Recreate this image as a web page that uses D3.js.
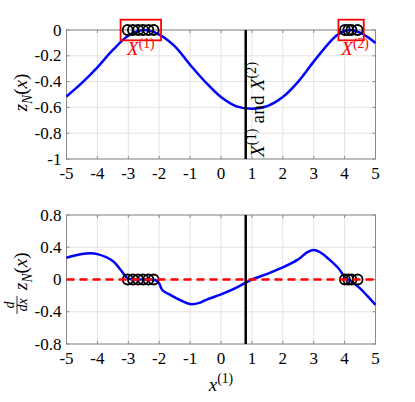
<!DOCTYPE html>
<html>
<head>
<meta charset="utf-8">
<script src="https://cdn.jsdelivr.net/npm/d3@7"></script>
<style>
body{margin:0;background:#fff;}
</style>
</head>
<body>
<svg id="fig" width="415" height="402" font-family="'Liberation Serif', 'DejaVu Serif', serif"></svg>
<script>
/* two panels: z_N(x) on top, its derivative below */
var xTop = [-5,-4.5,-4,-3.5,-3,-2.5,-2,-1.5,-1,-0.5,0,0.5,1,1.5,2,2.5,3,3.5,3.75,4,4.2,4.5,4.75,5];
var zTop = [-0.515,-0.41,-0.29,-0.155,-0.045,0.0,-0.035,-0.125,-0.27,-0.405,-0.52,-0.592,-0.61,-0.59,-0.52,-0.40,-0.245,-0.10,-0.04,-0.008,0.0,-0.02,-0.055,-0.10];
var xDer = [-5,-4.5,-4.25,-4,-3.5,-3.25,-3.1,-3,-2.5,-2.1,-2,-1.9,-1.6,-1.3,-1,-0.7,-0.5,0,0.5,0.8,1,1.5,2,2.5,2.8,3,3.2,3.5,3.8,4,4.2,4.5,4.75,5];
var zDer = [0.27,0.315,0.325,0.315,0.23,0.12,0.045,0.01,0.0,-0.01,-0.05,-0.13,-0.2,-0.26,-0.305,-0.29,-0.255,-0.185,-0.10,-0.04,0.0,0.07,0.15,0.25,0.34,0.365,0.34,0.25,0.14,0.035,-0.02,-0.11,-0.21,-0.315];
var cand1 = [-3.02,-2.85,-2.68,-2.52,-2.35,-2.18];
var cand2 = [4.01,4.12,4.22,4.42];
var box1 = [-3.25,-1.94];
var box2 = [3.80,4.62];
var boxY = [-0.08,0.08];
var xSplit = 0.8;
var xTicks = d3.range(-5,6);
var topYTicks = [-1,-0.8,-0.6,-0.4,-0.2,0];
var botYTicks = [-0.8,-0.4,0,0.4,0.8];

var svg = d3.select("#fig");
var x = d3.scaleLinear().domain([-5,5]).range([66.5,375.5]);

// writes a bit of latex-ish text: parts are [string, style]
var mathText = function(sel, parts, size, color){
    var t = sel.append("text").attr("font-size", size).attr("fill", color || "#000");
    var shift = 0;
    parts.forEach(function(p){
	var s = p[1] || "";
	var dy = 0, fs = size;
	if (s.indexOf("sup") >= 0) { dy = -0.4*size; fs = 0.72*size; }
	if (s.indexOf("sub") >= 0) { dy = 0.25*size; fs = 0.72*size; }
	t.append("tspan")
	    .attr("dy", dy - shift)
	    .attr("font-size", fs)
	    .attr("font-style", s.indexOf("it") >= 0 ? "italic" : "normal")
	    .text(p[0]);
	shift = dy;
    });
    return t;
};

var panel = function(top, bottom, ydom, yticks){
    var y = d3.scaleLinear().domain(ydom).range([bottom, top]);
    var g = svg.append("g");
    g.selectAll(".gx").data(xTicks).enter().append("line")
	.attr("x1", x).attr("x2", x).attr("y1", top).attr("y2", bottom)
	.attr("stroke", "#e3e3e3").attr("stroke-width", 1);
    g.selectAll(".gy").data(yticks).enter().append("line")
	.attr("x1", x.range()[0]).attr("x2", x.range()[1])
	.attr("y1", y).attr("y2", y)
	.attr("stroke", "#e3e3e3").attr("stroke-width", 1);
    // small inward ticks on all four sides
    g.selectAll(".tx").data(xTicks).enter().append("path")
	.attr("d", function(d){ return "M" + x(d) + "," + bottom + "v-3M" + x(d) + "," + top + "v3"; })
	.attr("stroke", "#8a8a8a");
    g.selectAll(".ty").data(yticks).enter().append("path")
	.attr("d", function(d){ return "M" + x.range()[0] + "," + y(d) + "h3M" + x.range()[1] + "," + y(d) + "h-3"; })
	.attr("stroke", "#8a8a8a");
    g.append("rect")
	.attr("x", x.range()[0]).attr("y", top)
	.attr("width", x.range()[1] - x.range()[0]).attr("height", bottom - top)
	.attr("fill", "none").attr("stroke", "#8a8a8a").attr("stroke-width", 1);
    g.selectAll(".lx").data(xTicks).enter().append("text")
	.attr("x", x).attr("y", bottom + 20)
	.attr("text-anchor", "middle").attr("font-size", 17)
	.text(function(d){ return String(d); });
    g.selectAll(".ly").data(yticks).enter().append("text")
	.attr("x", x.range()[0] - 5).attr("y", function(d){ return y(d) + 5.5; })
	.attr("text-anchor", "end").attr("font-size", 17)
	.text(function(d){ return String(d); });
    return {g: g, y: y, top: top, bottom: bottom};
};

var line = function(xs, ys, y){
    return d3.line().curve(d3.curveCatmullRom.alpha(0.5))
	.x(function(d){ return x(d); })
	.y(function(d, i){ return y(ys[i]); })(xs);
};

var circles = function(g, xs, y){
    g.selectAll(null).data(xs).enter().append("circle")
	.attr("cx", x).attr("cy", y(0)).attr("r", 5)
	.attr("fill", "none").attr("stroke", "#000").attr("stroke-width", 1.8);
};

// ---- top panel
var p1 = panel(30, 159, [-1, 0], topYTicks);
p1.g.append("path").attr("d", line(xTop, zTop, p1.y))
    .attr("fill", "none").attr("stroke", "#0000ff").attr("stroke-width", 2.5);
p1.g.append("line")
    .attr("x1", x(xSplit)).attr("x2", x(xSplit)).attr("y1", p1.top).attr("y2", p1.bottom)
    .attr("stroke", "#000").attr("stroke-width", 2.5);
circles(p1.g, cand1, p1.y);
circles(p1.g, cand2, p1.y);
[box1, box2].forEach(function(b, i){
    p1.g.append("rect")
	.attr("x", x(b[0])).attr("y", p1.y(boxY[1]))
	.attr("width", x(b[1]) - x(b[0])).attr("height", p1.y(boxY[0]) - p1.y(boxY[1]))
	.attr("fill", "none").attr("stroke", "#ff0000").attr("stroke-width", 1.8);
    mathText(p1.g, [["X","it"],["(" + (i+1) + ")","sup"]], 19, "#ff0000")
	.attr("x", x((b[0] + b[1]) / 2) + (i ? 4 : 0)).attr("y", p1.y(boxY[0]) + 15)
	.attr("text-anchor", "middle");
});
mathText(p1.g.append("g").attr("transform", "translate(" + (x(xSplit) + 18) + ",157) rotate(-90)"),
	 [["X","it"],["(1)","sup"],["  and  ",""],["X","it"],["(2)","sup"]], 19)
    .attr("textLength", 95).attr("lengthAdjust", "spacing");
mathText(p1.g.append("g").attr("transform", "translate(27,92.5) rotate(-90)"),
	 [["z","it"],["N","it sub"],["(",""],["x","it"],[")",""]], 19)
    .attr("text-anchor", "middle");

// ---- bottom panel
var p2 = panel(215, 344, [-0.8, 0.8], botYTicks);
p2.g.append("path").attr("d", line(xDer, zDer, p2.y))
    .attr("fill", "none").attr("stroke", "#0000ff").attr("stroke-width", 2.5);
p2.g.append("line")
    .attr("x1", x(xSplit)).attr("x2", x(xSplit)).attr("y1", p2.top).attr("y2", p2.bottom)
    .attr("stroke", "#000").attr("stroke-width", 2.5);
circles(p2.g, cand1, p2.y);
circles(p2.g, cand2, p2.y);
p2.g.append("line")
    .attr("x1", x.range()[0]).attr("x2", x.range()[1])
    .attr("y1", p2.y(0)).attr("y2", p2.y(0))
    .attr("stroke", "#ff0000").attr("stroke-width", 2.5).attr("stroke-dasharray", "8,5");

// d/dx z_N(x), rotated
var lab = p2.g.append("g").attr("transform", "translate(27,280) rotate(-90)");
lab.append("text").attr("x", -25).attr("y", -13).attr("font-size", 14)
    .attr("font-style", "italic").attr("text-anchor", "middle").text("d");
lab.append("line").attr("x1", -34).attr("x2", -16).attr("y1", -10).attr("y2", -10)
    .attr("stroke", "#000").attr("stroke-width", 0.8);
lab.append("text").attr("x", -25).attr("y", 0).attr("font-size", 14)
    .attr("font-style", "italic").attr("text-anchor", "middle").text("dx");
mathText(lab, [["z","it"],["N","it sub"],["(",""],["x","it"],[")",""]], 19)
    .attr("x", -10);

mathText(svg, [["x","it"],["(1)","sup"]], 19)
    .attr("x", 221).attr("y", 391).attr("text-anchor", "middle");
</script>
</body>
</html>
